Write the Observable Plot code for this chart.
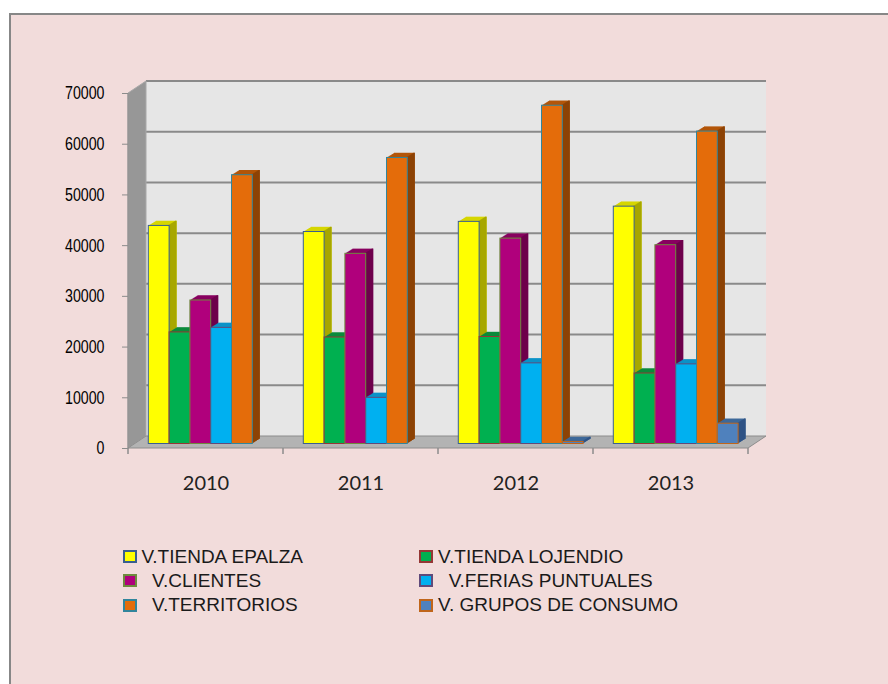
<!DOCTYPE html>
<html><head><meta charset="utf-8">
<script src="https://cdn.jsdelivr.net/npm/d3@7"></script>
<script src="https://cdn.jsdelivr.net/npm/@observablehq/plot@0.6"></script>
<style>
html,body{margin:0;padding:0;background:#fff;width:888px;height:684px;overflow:hidden;}
#box{position:absolute;left:9px;top:13px;width:900px;height:700px;background:#F2DCDB;border-top:2px solid #878787;border-left:2px solid #878787;}
#chart{position:absolute;left:0;top:0;}
#legend{position:absolute;left:122.6px;top:550px;display:grid;grid-template-columns:296.7px 296.7px;grid-auto-rows:24.3px;font-family:'Liberation Sans',Arial,sans-serif;font-size:19px;color:#1a1a1a;}
.item{display:flex;align-items:center;height:13px;white-space:pre;}
.sw{width:14px;height:13px;box-sizing:border-box;border:2px solid;margin-right:4.8px;flex:none}
</style></head><body>
<div id="box"></div><div id="chart"></div><div id="legend"></div>
<script>
// ---- data ----
const years = ["2010", "2011", "2012", "2013"];
const seriesNames = ["V.TIENDA EPALZA", "V.TIENDA LOJENDIO", "  V.CLIENTES", "  V.FERIAS PUNTUALES", "  V.TERRITORIOS", "V. GRUPOS DE CONSUMO"];
const tiendaEpalza   = [43000, 41800, 43800, 46800];
const tiendaLojendio = [22000, 21000, 21100, 13900];
const clientes       = [28300, 37500, 40500, 39200];
const feriasPuntuales= [22900, 9100, 15900, 15700];
const territorios    = [53000, 56400, 66700, 61600];
const gruposConsumo  = [null, null, 400, 4000];
const yTicks = [0, 10000, 20000, 30000, 40000, 50000, 60000, 70000];

const seriesValues = [tiendaEpalza, tiendaLojendio, clientes, feriasPuntuales, territorios, gruposConsumo];
const fills   = ["#FFFF00", "#00B050", "#B0007C", "#00B0F0", "#E46C0A", "#4F81BD"];
const tops    = ["#D6D600", "#0A8A3A", "#88005F", "#0A92C8", "#B35508", "#3D6899"];
const sides   = ["#A6A600", "#00793A", "#6E004C", "#0078A8", "#8C4306", "#2F5385"];
const strokes = ["#3A5F8F", "#953735", "#6E8B3D", "#604A7B", "#31859C", "#C0651A"];

// ---- layout ----
const W = 888, H = 520;
const mL = 128, mR = 140, mT = 93, mB = 72;
const bw = (W - mL - mR) / years.length;
const wallDepth = [18, -12];
const barDepth = [7.5, -4.7];
const barShift = -4.5;
const barStart = 20.3, barW = 20.8;
const N = 8;

function walls(index, scales) {
  const x = scales.x, y = scales.y;
  const yMax = d3.max(yTicks);
  const xl = x(years[0]), xr = x(years[years.length - 1]) + x.bandwidth();
  const [dx, dy] = wallDepth;
  const y0 = y(0), yT = y(yMax);
  const g = d3.create("svg:g");
  g.append("rect").attr("x", xl + dx).attr("y", yT + dy).attr("width", xr - xl).attr("height", y0 - yT).attr("fill", "#E6E6E6");
  g.selectAll("line.grid").data(yTicks.filter(t => t > 0)).join("line")
    .attr("x1", xl + dx).attr("x2", xr + dx).attr("y1", t => y(t) + dy).attr("y2", t => y(t) + dy)
    .attr("stroke", "#8A8A8A").attr("stroke-width", 2);
  g.append("path").attr("d", `M${xl},${y0}L${xl},${yT}L${xl + dx},${yT + dy}L${xl + dx},${y0 + dy}Z`)
    .attr("fill", "#979797").attr("stroke", "#A8A8A8").attr("stroke-width", 1);
  g.append("path").attr("d", `M${xl},${y0}L${xr},${y0}L${xr + dx},${y0 + dy}L${xl + dx},${y0 + dy}Z`)
    .attr("fill", "#B3B3B3").attr("stroke", "#8C8C8C").attr("stroke-width", 1);
  g.append("line").attr("x1", xl).attr("x2", xl).attr("y1", yT).attr("y2", y0).attr("stroke", "#8C8C8C");
  const bounds = years.map(d => x(d)).concat([xr]);
  g.selectAll("line.bt").data(bounds).join("line")
    .attr("x1", d => d).attr("x2", d => d).attr("y1", y0).attr("y2", y0 + 6)
    .attr("stroke", "#8C8C8C").attr("stroke-width", 1.5);
  return g.node();
}

const marks = [walls];
seriesValues.forEach((vals, j) => {
  const data = years.map((yr, i) => ({year: yr, value: vals[i]})).filter(d => d.value != null);
  const iL = barStart + j * barW;
  const iR = bw - barStart - (j + 1) * barW;
  for (let k = 1; k <= N; k++) {
    marks.push(Plot.rectY(data, {x: "year", y1: 0, y2: "value", fill: tops[j], insetLeft: iL, insetRight: iR,
      dx: k * barDepth[0] / N, dy: barShift + k * barDepth[1] / N}));
  }
  for (let k = 1; k <= N; k++) {
    marks.push(Plot.rectY(data, {x: "year", y1: 0, y2: "value", fill: sides[j], insetLeft: bw - iR - 1.6, insetRight: iR,
      dx: k * barDepth[0] / N, dy: barShift + k * barDepth[1] / N}));
  }
  marks.push(Plot.rectY(data, {x: "year", y1: 0, y2: "value", fill: fills[j], stroke: strokes[j], strokeWidth: 1,
    insetLeft: iL, insetRight: iR, dy: barShift}));
});
marks.push(Plot.axisY({ticks: yTicks, tickSize: 6, tickPadding: 18, tickFormat: d => String(d), label: null,
  stroke: "#8C8C8C", fill: "#000", fontSize: 18.5, fontFamily: "'Liberation Sans', Arial, sans-serif"}));
marks.push(Plot.axisX({tickSize: 0, tickPadding: 27, label: null, fill: "#222", fontSize: 20, fontFamily: "Lato, sans-serif"}));

const chart = Plot.plot({
  width: W, height: H,
  marginLeft: mL, marginRight: mR, marginTop: mT, marginBottom: mB,
  style: {background: "transparent", overflow: "visible"},
  x: {type: "band", domain: years, padding: 0, axis: null},
  y: {domain: [0, d3.max(yTicks)], axis: null},
  marks
});
// condense the y tick labels horizontally, like the original's narrow digits
d3.select(chart).selectAll("g[aria-label='y-axis tick label'] text").each(function() {
  const n = this.textContent.length;
  this.setAttribute("textLength", n * 7.9);
  this.setAttribute("lengthAdjust", "spacingAndGlyphs");
});
document.getElementById("chart").appendChild(chart);

const legend = document.getElementById("legend");
seriesNames.forEach((name, j) => {
  const it = document.createElement("div");
  it.className = "item";
  const sw = document.createElement("span");
  sw.className = "sw";
  sw.style.background = fills[j];
  sw.style.borderColor = strokes[j];
  it.appendChild(sw);
  const t = document.createElement("span");
  t.textContent = name;
  it.appendChild(t);
  legend.appendChild(it);
});
</script>
</body></html>
